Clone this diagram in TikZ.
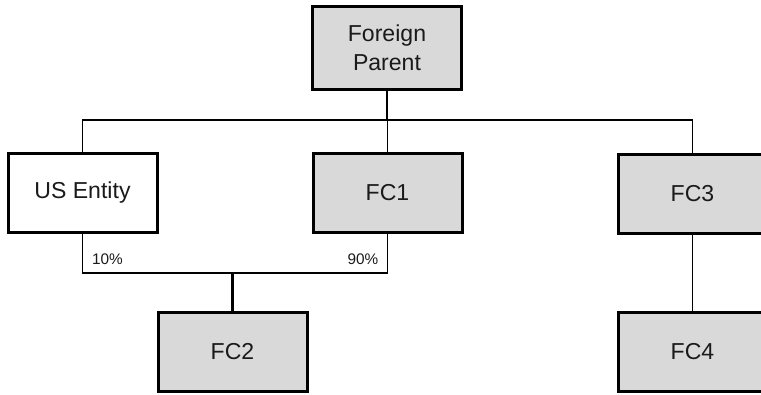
\documentclass[tikz,border=0pt]{standalone}
\usepackage{fontspec}
\setmainfont{Liberation Sans}
\definecolor{boxgray}{HTML}{D9D9D9}
\definecolor{inkgray}{HTML}{1A1A1A}
\tikzset{
	entity/.style = {draw, line width = 2.25pt, minimum width = 111.75pt, minimum height = 59.25pt, align = center, text = inkgray, font = \fontsize{17.3}{21.75}\selectfont},
	foreign/.style = {entity, fill = boxgray},
	conn/.style = {line width = 1.1pt},
	trunk/.style = {line width = 1.6pt},
	pct/.style = {text = inkgray, font = \fontsize{11.5}{13}\selectfont, inner sep = 0pt}
}
\begin{document}
\begin{tikzpicture}[x = 0.75pt, y = -0.75pt]
		\clip (0, 0) rectangle (761, 394);
		\node[foreign, minimum height = 62.25pt] (parent) at (387, 48) {Foreign\\Parent};
		\node[entity] (us) at (82.5, 193) {US Entity};
		\node[foreign] (fc1) at (387.5, 193) {FC1};
		\node[foreign] (fc3) at (692.5, 193.5) {FC3};
		\node[foreign] (fc2) at (232.5, 352) {FC2};
		\node[foreign] (fc4) at (692.5, 352) {FC4};
		\coordinate (bus) at (387, 120);
		\coordinate (join) at (232.5, 273);
		\draw[trunk] (parent.south) -- (bus);
		\draw[conn] (us.north) -- (us.north |- bus) -- (fc3.north |- bus) -- (fc3.north);
		\draw[conn] (fc1.north) -- (fc1.north |- bus);
		\draw[conn] (us.south) -- (us.south |- join) -- (fc1.south |- join) -- (fc1.south);
		\draw[trunk] (join) -- (fc2.north);
		\draw[conn] (fc3.south) -- (fc4.north);
		\node[pct] (share10) at (107.5, 259) {10\%};
		\node[pct] (share90) at (363, 259) {90\%};
	\end{tikzpicture}
\end{document}
